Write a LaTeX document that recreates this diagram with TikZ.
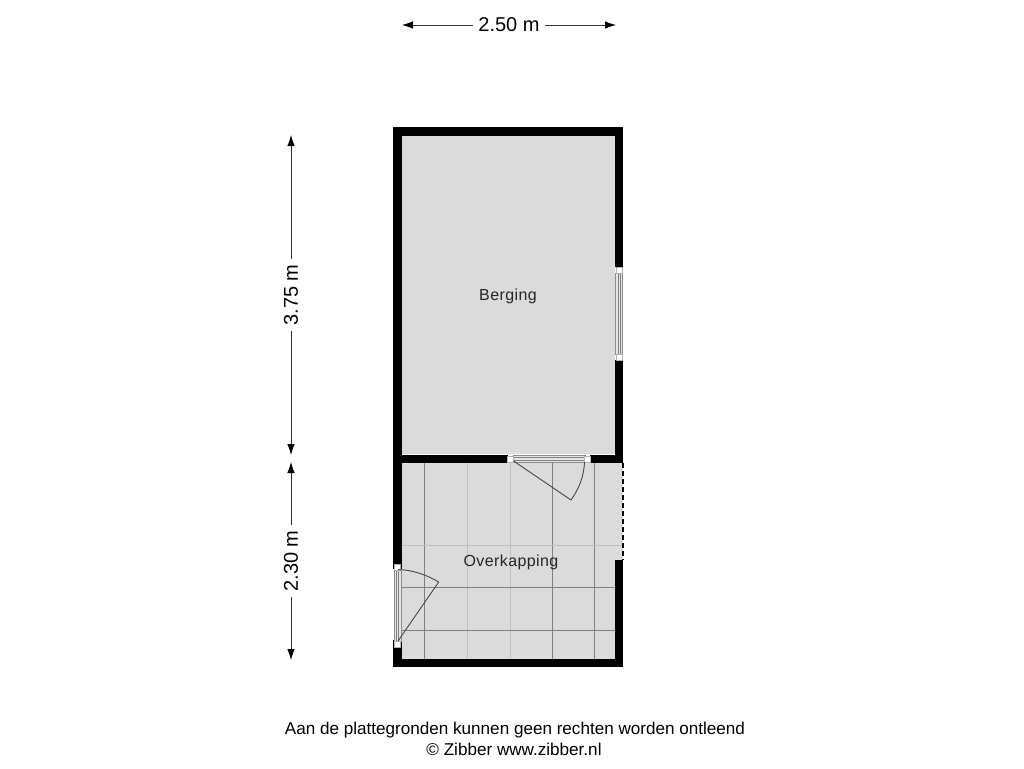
\documentclass[tikz,border=0pt]{standalone}
\usepackage{fontspec}
\setmainfont{Liberation Sans}
\newfontfamily\roomfont[LetterSpace=2.5]{Liberation Sans}
\usetikzlibrary{arrows.meta}
\begin{document}
\begin{tikzpicture}[x=1pt,y=-1pt,
wall/.style={fill=black,draw=none},
floor/.style={fill=black!14,draw=none},
tileline/.style={draw=black!50,line width=0.9pt},
faintline/.style={draw=black!25,line width=0.9pt},
frame/.style={draw=black!45,fill=black!10,line width=1pt},
stripe/.style={draw=black!50,line width=1pt},
post/.style={draw=black!30,fill=white,line width=0.4pt},
leaf/.style={draw=black!72,line width=0.9pt},
dimline/.style={draw=black!80,line width=0.8pt,{Latex[length=11pt,width=7.5pt,black]}-{Latex[length=11pt,width=7.5pt,black]}},
dimlabel/.style={fill=white,font=\fontsize{20}{22}\selectfont,inner sep=5pt},
roomlabel/.style={font=\roomfont\fontsize{16}{18}\selectfont,text=black!85,inner sep=0pt},
footlabel/.style={font=\fontsize{17.1}{19}\selectfont,inner sep=0pt}]
\useasboundingbox (0,0) rectangle (1024,768);
% floors
\fill[floor] (402,136) rectangle (615,454);
\fill[floor] (402,463) rectangle (623,560) (402,560) rectangle (615,659);
% tiles
\foreach \x in {424.5,552,594.5} \draw[tileline] (\x,463) -- (\x,659);
\foreach \x in {467,510} \draw[faintline] (\x,463) -- (\x,659);
\draw[faintline] (402,545) -- (623,545);
\foreach \y in {587.5,630} \draw[tileline] (402,\y) -- (615,\y);
% walls
\fill[wall] (393.3,127) rectangle (623.3,136);
\fill[wall] (393.3,127) rectangle (401.8,569);
\fill[wall] (393.3,640) rectangle (401.8,667);
\fill[wall] (393.3,659) rectangle (623.3,667);
\fill[wall] (615,127) rectangle (623.3,267);
\fill[wall] (615,360) rectangle (623.3,463);
\fill[wall] (402,454.5) rectangle (508,463.2);
\fill[wall] (590,454.5) rectangle (623.3,463.2);
\fill[wall] (615,560) rectangle (623.3,667);
% open side
\draw[draw=black,line width=1.5pt,dash pattern=on 4.5pt off 3.5pt] (623,463) -- (623,560);
% window
\draw[frame] (615.6,273) rectangle (622.9,354);
\foreach \x in {618,620.4} \draw[stripe] (\x,273) -- (\x,354);
\draw[post] (616,267.5) rectangle (622.6,273.5);
\draw[post] (616,354) rectangle (622.6,360);
% inner door
\draw[frame] (513,455.3) rectangle (585,462.7);
\foreach \y in {457.8,460.2} \draw[stripe] (513,\y) -- (585,\y);
\draw[post] (507.5,456) rectangle (513.5,462);
\draw[post] (584.5,456) rectangle (590.5,462);
\draw[leaf] (513.5,461) -- (571,500);
\draw[leaf] (571,500) .. controls (579,489) and (584,476) .. (584.5,462);
% outer door
\draw[frame] (394,570) rectangle (401.4,641);
\foreach \x in {396.5,398.9} \draw[stripe] (\x,570) -- (\x,641);
\draw[post] (394.5,564) rectangle (400.5,570);
\draw[post] (394.5,641) rectangle (400.5,647);
\draw[leaf] (398,641) -- (438.7,582);
\draw[leaf] (438.7,582) .. controls (427,575) and (413,570) .. (398,569.5);
% labels
\node[roomlabel] (berging) at (508,296) {Berging};
\node[roomlabel] (overkapping) at (511,562) {Overkapping};
% dimensions
\coordinate (widthA) at (402,25);
\coordinate (widthB) at (616,25);
\coordinate (lengthA) at (291,135);
\coordinate (lengthB) at (291,455);
\coordinate (coverA) at (291,462);
\coordinate (coverB) at (291,660);
\draw[dimline] (widthA) -- (widthB) node[midway,dimlabel] (widthtext) {2.50 m};
\draw[dimline] (lengthA) -- (lengthB) node[midway,dimlabel,rotate=90] (lengthtext) {3.75 m};
\draw[dimline] (coverA) -- (coverB) node[midway,dimlabel,rotate=90] (covertext) {2.30 m};
% footer
\node[footlabel] (disclaimer) at (515,730.5) {Aan de plattegronden kunnen geen rechten worden ontleend};
\node[footlabel] (credit) at (514,749.5) {© Zibber www.zibber.nl};
\end{tikzpicture}
\end{document}
